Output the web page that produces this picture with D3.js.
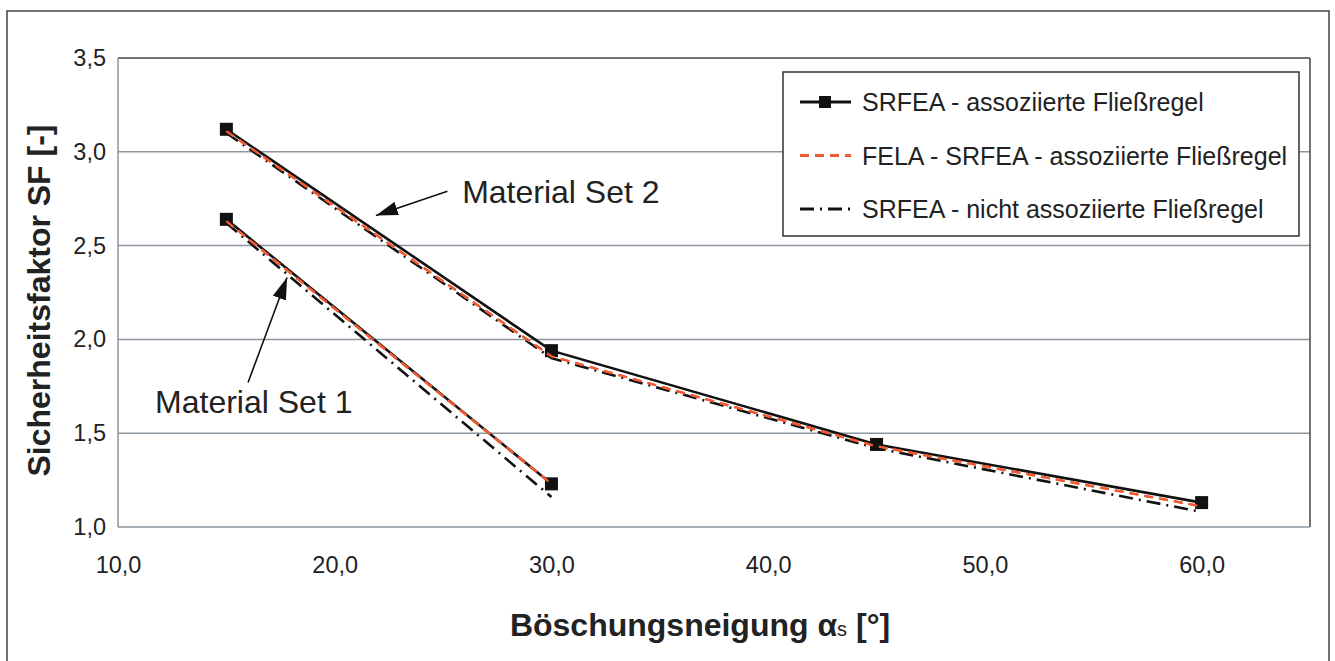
<!DOCTYPE html>
<html>
  <head>
    <meta charset="UTF-8">
    <title>Sicherheitsfaktor vs. Böschungsneigung</title>
    <script src="https://cdn.jsdelivr.net/npm/d3@7"></script>
    <style>
      body { margin: 0; background: #fff; }
      text { font-family: "Liberation Sans", Arial, sans-serif; fill: #222; }
    </style>
  </head>
  <body>
    <script>
        var w = 1335;
        var h = 661;

        // slope angle [deg]
        var anglesSet2 = [15, 30, 45, 60];
        var anglesSet1 = [15, 30];

        // SRFEA - associated flow rule
        var srfeaAssocSet2 = [3.12, 1.94, 1.44, 1.13];
        var srfeaAssocSet1 = [2.64, 1.23];
        // FELA - SRFEA - associated flow rule
        var felaSet2 = [3.11, 1.91, 1.43, 1.11];
        var felaSet1 = [2.63, 1.23];
        // SRFEA - non-associated flow rule
        var srfeaNonAssocSet2 = [3.10, 1.90, 1.42, 1.08];
        var srfeaNonAssocSet1 = [2.62, 1.16];

        var xTicks = [10, 20, 30, 40, 50, 60];
        var yTicks = [1.0, 1.5, 2.0, 2.5, 3.0, 3.5];

        var legendLabels = [
            "SRFEA - assoziierte Fließregel",
            "FELA - SRFEA - assoziierte Fließregel",
            "SRFEA - nicht assoziierte Fließregel"
        ];

        var margin = {left: 118, top: 58, right: 25, bottom: 134};
        var pw = w - margin.left - margin.right;
        var ph = h - margin.top - margin.bottom;

        var fmt = function(v){ return d3.format(".1f")(v).replace(".", ","); };

        var x = d3.scaleLinear().domain([10, 65]).range([0, pw]);
        var y = d3.scaleLinear().domain([1.0, 3.5]).range([ph, 0]);

        var svg = d3.select("body").append("svg")
            .attr("width", w)
            .attr("height", h);

        // outer frame
        svg.append("rect")
            .attr("x", 7).attr("y", 11)
            .attr("width", 1322).attr("height", 660)
            .attr("fill", "none")
            .attr("stroke", "#444")
            .attr("stroke-width", 1.5);

        var g = svg.append("g")
            .attr("transform", "translate(" + margin.left + "," + margin.top + ")");

        // grid lines
        g.selectAll("line.grid")
            .data(yTicks.slice(1, -1))
            .enter()
            .append("line")
            .attr("class", "grid")
            .attr("x1", 0).attr("x2", pw)
            .attr("y1", function(d){ return y(d); })
            .attr("y2", function(d){ return y(d); })
            .attr("stroke", "#8d97a1")
            .attr("stroke-width", 1.5);

        // plot frame: top/right dark, left/bottom gray
        g.append("line").attr("x1", 0).attr("x2", pw).attr("y1", 0).attr("y2", 0)
            .attr("stroke", "#444").attr("stroke-width", 1.5);
        g.append("line").attr("x1", pw).attr("x2", pw).attr("y1", 0).attr("y2", ph)
            .attr("stroke", "#444").attr("stroke-width", 1.5);
        g.append("line").attr("x1", 0).attr("x2", 0).attr("y1", 0).attr("y2", ph)
            .attr("stroke", "#8d97a1").attr("stroke-width", 1.5);
        g.append("line").attr("x1", 0).attr("x2", pw).attr("y1", ph).attr("y2", ph)
            .attr("stroke", "#8d97a1").attr("stroke-width", 1.5);

        // axes (labels only)
        var xAxis = d3.axisBottom(x).tickValues(xTicks).tickFormat(fmt).tickSize(0).tickPadding(29);
        var yAxis = d3.axisLeft(y).tickValues(yTicks).tickFormat(fmt).tickSize(0).tickPadding(12);

        var gx = g.append("g").attr("transform", "translate(0," + ph + ")").call(xAxis);
        var gy = g.append("g").call(yAxis);
        [gx, gy].forEach(function(a){
            a.select(".domain").remove();
            a.selectAll("text")
                .attr("font-size", "23.5px")
                .attr("font-family", "Liberation Sans, Arial, sans-serif")
                .attr("fill", "#222");
        });

        // series
        var line = d3.line()
            .x(function(d){ return x(d[0]); })
            .y(function(d){ return y(d[1]); });

        function pairs(xs, ys){ return xs.map(function(v, i){ return [v, ys[i]]; }); }

        var series = [
            {data: [pairs(anglesSet2, srfeaNonAssocSet2), pairs(anglesSet1, srfeaNonAssocSet1)],
             color: "#111", width: 2.6, dash: "14,6,2,6"},
            {data: [pairs(anglesSet2, srfeaAssocSet2), pairs(anglesSet1, srfeaAssocSet1)],
             color: "#111", width: 2.6, dash: null, marker: true},
            {data: [pairs(anglesSet2, felaSet2), pairs(anglesSet1, felaSet1)],
             color: "#f15a30", width: 2.3, dash: "9,6"}
        ];

        series.forEach(function(s){
            s.data.forEach(function(d){
                g.append("path")
                    .datum(d)
                    .attr("d", line)
                    .attr("fill", "none")
                    .attr("stroke", s.color)
                    .attr("stroke-width", s.width)
                    .attr("stroke-dasharray", s.dash);
            });
        });

        // square markers for SRFEA assoziiert
        var markerPts = pairs(anglesSet2, srfeaAssocSet2).concat(pairs(anglesSet1, srfeaAssocSet1));
        g.selectAll("rect.marker")
            .data(markerPts)
            .enter()
            .append("rect")
            .attr("class", "marker")
            .attr("x", function(d){ return x(d[0]) - 6.5; })
            .attr("y", function(d){ return y(d[1]) - 6.5; })
            .attr("width", 13).attr("height", 13)
            .attr("fill", "#111");
        // orange drawn again above the markers
        series[2].data.forEach(function(d){
            g.append("path").datum(d).attr("d", line)
                .attr("fill", "none").attr("stroke", "#f15a30")
                .attr("stroke-width", 2.3).attr("stroke-dasharray", "9,6");
        });

        // annotations
        var defs = svg.append("defs");
        defs.append("marker")
            .attr("id", "arrow")
            .attr("viewBox", "0 0 22 14")
            .attr("refX", 22).attr("refY", 7)
            .attr("markerWidth", 22).attr("markerHeight", 14)
            .attr("markerUnits", "userSpaceOnUse")
            .attr("orient", "auto")
            .append("path")
            .attr("d", "M0,0 L22,7 L0,14 z")
            .attr("fill", "#111");

        var annotations = [
            {label: "Material Set 2", tx: 25.88, ty: 2.727, from: [25.2, 2.79], to: [21.9, 2.66]},
            {label: "Material Set 1", tx: 11.71, ty: 1.608, from: [16.0, 1.77], to: [17.8, 2.33]}
        ];
        annotations.forEach(function(a){
            g.append("line")
                .attr("x1", x(a.from[0])).attr("y1", y(a.from[1]))
                .attr("x2", x(a.to[0])).attr("y2", y(a.to[1]))
                .attr("stroke", "#111").attr("stroke-width", 1.6)
                .attr("marker-end", "url(#arrow)");
            g.append("text")
                .attr("x", x(a.tx)).attr("y", y(a.ty))
                .attr("font-size", "32px")
                .text(a.label);
        });

        // legend
        var lg = svg.append("g").attr("transform", "translate(783,72)");
        lg.append("rect")
            .attr("width", 516).attr("height", 164)
            .attr("fill", "#fff")
            .attr("stroke", "#333")
            .attr("stroke-width", 1.5);
        var legendStyles = [series[1], series[2], series[0]];
        legendLabels.forEach(function(lab, i){
            var ly = 30 + i * 53.5;
            var st = legendStyles[i];
            lg.append("line")
                .attr("x1", 17).attr("x2", 68)
                .attr("y1", ly).attr("y2", ly)
                .attr("stroke", st.color)
                .attr("stroke-width", 3)
                .attr("stroke-dasharray", st.dash);
            if (st.marker) {
                lg.append("rect")
                    .attr("x", 36).attr("y", ly - 6)
                    .attr("width", 12).attr("height", 12)
                    .attr("fill", "#111");
            }
            lg.append("text")
                .attr("x", 79).attr("y", ly + 9)
                .attr("font-size", "25px")
                .text(lab);
        });

        // axis titles
        svg.append("text")
            .attr("transform", "translate(50," + (margin.top + ph / 2 + 8) + ") rotate(-90)")
            .attr("text-anchor", "middle")
            .attr("font-size", "32px")
            .attr("font-weight", "bold")
            .text("Sicherheitsfaktor SF [-]");

        var xt = svg.append("text")
            .attr("x", 700).attr("y", 636)
            .attr("text-anchor", "middle")
            .attr("font-size", "32px")
            .attr("font-weight", "bold");
        xt.append("tspan").text("Böschungsneigung α");
        xt.append("tspan").attr("font-size", "20px").attr("font-weight", "normal").text("s");
        xt.append("tspan").text(" [°]");
    </script>
  </body>
</html>
